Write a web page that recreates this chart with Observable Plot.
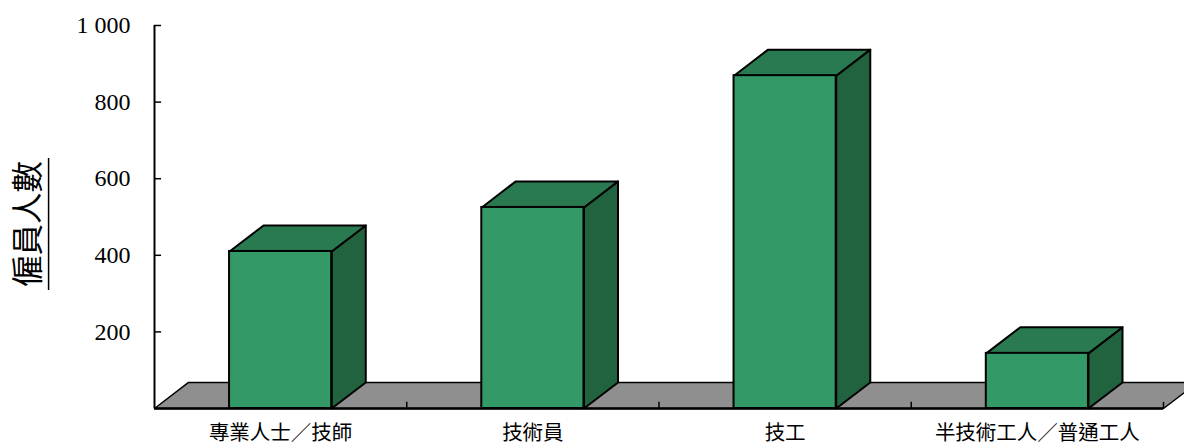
<!DOCTYPE html>
<html><head><meta charset="utf-8">
<script src="https://cdn.jsdelivr.net/npm/d3@7"></script>
<script src="https://cdn.jsdelivr.net/npm/@observablehq/plot@0.6"></script>
<style>
body{margin:0;background:#fff}
#chart svg{overflow:hidden}
</style>
</head><body><div id="chart"></div>
<script>
const categories = ["專業人士／技師", "技術員", "技工", "半技術工人／普通工人"];
const values = [410, 525, 869, 144];
const yTicks = [200, 400, 600, 800, 1000];
const yTickLabels = ["200", "400", "600", "800", "1 000"];
const yTitle = "僱員人數";

// 3D geometry (style): half bar width and depth offset in scale units
const HALF = 0.2025, DX = 0.135, DY = 68;
const n = categories.length;
const bars = categories.map((c, i) => ({c, v: values[i], x0: i + 0.5 - HALF, x1: i + 0.5 + HALF}));
const poly = (pts, z) => pts.concat([pts[0]]).map(([x, y]) => ({x, y, z}));
const tops = bars.flatMap(b => poly([[b.x0, b.v], [b.x1, b.v], [b.x1 + DX, b.v + DY], [b.x0 + DX, b.v + DY]], b.c));
const sides = bars.flatMap(b => poly([[b.x1, 0], [b.x1 + DX, DY], [b.x1 + DX, b.v + DY], [b.x1, b.v]], b.c));
const floor = poly([[0, 0], [n, 0], [n + DX, DY], [DX, DY]], "floor");

const plot = Plot.plot({
  width: 1184, height: 445,
  marginLeft: 154, marginRight: 21, marginTop: 25, marginBottom: 37,
  x: {domain: [0, n], axis: null},
  y: {domain: [0, 1000], axis: null},
  style: {fontFamily: "'Liberation Serif', 'Times New Roman', serif", background: "#fff", color: "#000"},
  marks: [
    Plot.line(floor, {x: "x", y: "y", z: "z", fill: "#8f8f8f", stroke: "#000", strokeWidth: 1.5, strokeLinejoin: "miter"}),
    Plot.ruleX(d3.range(1, n + 1), {y1: 0, y2: 16, stroke: "#000", strokeWidth: 1.5}),
    Plot.line(sides, {x: "x", y: "y", z: "z", fill: "#21623f", stroke: "#000", strokeWidth: 2, strokeLinejoin: "round"}),
    Plot.line(tops, {x: "x", y: "y", z: "z", fill: "#2a7a51", stroke: "#000", strokeWidth: 2, strokeLinejoin: "round"}),
    Plot.rect(bars, {x1: "x0", x2: "x1", y1: 0, y2: "v", fill: "#339966", stroke: "#000", strokeWidth: 2}),
    Plot.ruleY([0], {x1: 0, x2: n, stroke: "#000", strokeWidth: 2.5}),
    Plot.ruleX([0], {y1: 0, y2: 1000, stroke: "#000", strokeWidth: 2}),
    Plot.ruleY(yTicks, {x1: 0, x2: 0.028, stroke: "#000", strokeWidth: 1.5}),
    Plot.text(yTicks, {x: 0, y: d => d, text: (d, i) => yTickLabels[i], textAnchor: "end", dx: -24, fontSize: 24}),
    Plot.text(categories, {x: (d, i) => i + 0.5, y: 0, dy: 25, text: d => d, fontSize: 20.5, fontFamily: "'Noto Sans CJK TC', sans-serif"}),
    Plot.text([yTitle], {frameAnchor: "left", textAnchor: "middle", lineAnchor: "middle", dx: -126, dy: 7, rotate: -90, text: d => d, fontSize: 31.5, fontFamily: "'Noto Sans CJK TC', sans-serif"})
  ]
});
document.getElementById("chart").append(plot);
// underline for the rotated y title, drawn in the title's own (rotated) frame
d3.select(plot).selectAll("text").filter(function () { return this.textContent === yTitle; })
  .each(function () {
    const bb = this.getBBox();
    const cy = bb.y + bb.height / 2 + 24;
    d3.select(this.parentNode).append("line")
      .attr("transform", this.getAttribute("transform"))
      .attr("x1", bb.x - 3).attr("x2", bb.x + bb.width + 3)
      .attr("y1", cy).attr("y2", cy)
      .attr("stroke", "#000").attr("stroke-width", 1.5);
  });
</script>
</body></html>
